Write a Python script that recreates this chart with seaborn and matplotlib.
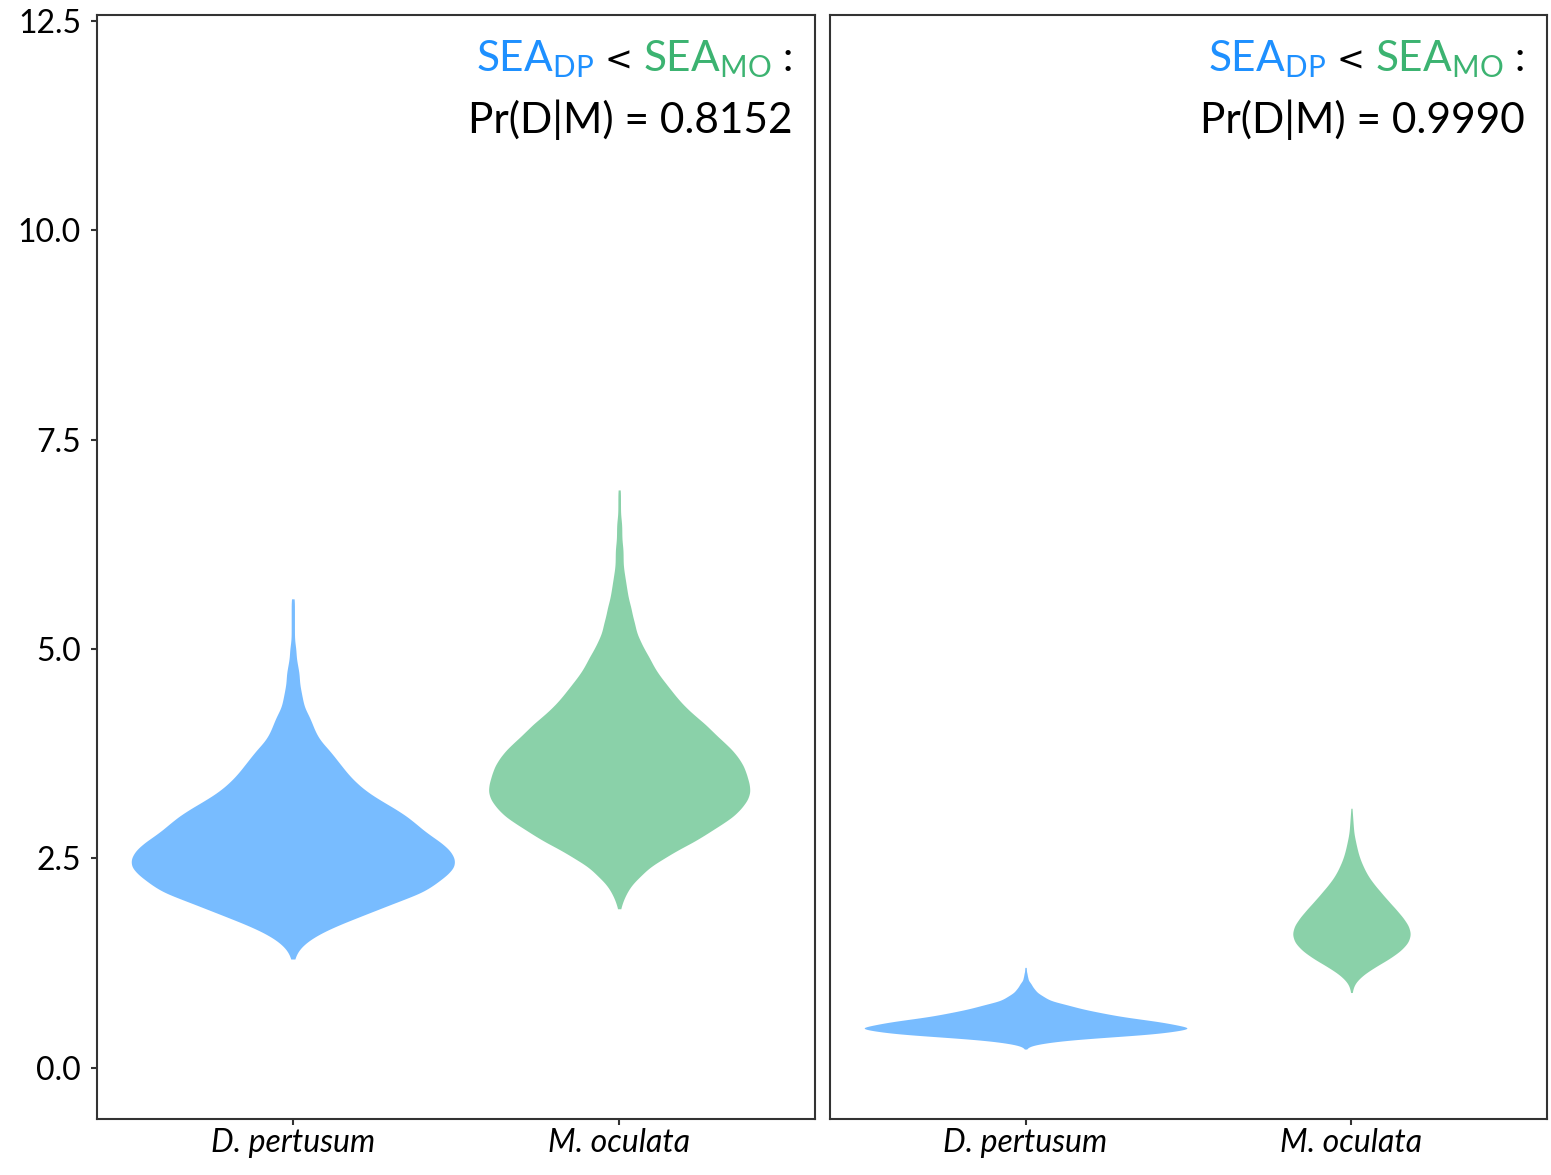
import numpy as np
import pandas as pd
import matplotlib
matplotlib.use("Agg")
import matplotlib.pyplot as plt
import seaborn as sns
from matplotlib.offsetbox import TextArea, HPacker, AnchoredOffsetbox

# ---------------------------------------------------------------------------
# Data: posterior draws of the standard ellipse area (SEA), tallied on a
# regular grid of SEA values (grid start, grid step, number of draws per level)
# ---------------------------------------------------------------------------
species = ["D. pertusum", "M. oculata"]
panels = ["left", "right"]

left_dp_start, left_dp_step = 1.3, 0.1
left_dp_counts = [1, 3, 8, 16, 27, 40, 53, 66, 80, 87, 94, 99, 99, 96, 90, 82,
                  76, 70, 62, 53, 45, 39, 34, 30, 26, 22, 17, 14, 12, 10, 7, 6,
                  5, 4, 4, 3, 2, 2, 1, 1, 1, 1, 1, 1]

left_mo_start, left_mo_step = 1.9, 0.1
left_mo_counts = [1, 3, 6, 10, 17, 23, 34, 44, 57, 67, 77, 87, 93, 98, 100, 99,
                  97, 95, 91, 86, 79, 72, 66, 58, 51, 45, 40, 35, 30, 26, 23,
                  19, 16, 13, 12, 10, 9, 7, 6, 5, 4, 3, 3, 3, 2, 2, 2, 1, 1, 1, 1]

right_dp_start, right_dp_step = 0.225, 0.025
right_dp_counts = [1, 3, 10, 25, 44, 74, 110, 147, 170, 186, 200, 187, 175, 161,
                   143, 124, 108, 95, 82, 70, 60, 51, 41, 31, 26, 22, 18, 14,
                   12, 10, 8, 7, 5, 3, 3, 2, 2, 1, 1, 1]

right_mo_start, right_mo_step = 0.9, 0.1
right_mo_counts = [1, 4, 17, 38, 63, 83, 96, 100, 96, 86, 74, 61, 49, 37, 27,
                   20, 14, 10, 7, 4, 3, 2, 1]

pr_values = ["0.8152", "0.9990"]

y_ticks = [0.0, 2.5, 5.0, 7.5, 10.0, 12.5]
y_tick_labels = ["0.0", "2.5", "5.0", "7.5", "10.0", "12.5"]

tallies = {
    ("left", "D. pertusum"): (left_dp_start, left_dp_step, left_dp_counts),
    ("left", "M. oculata"): (left_mo_start, left_mo_step, left_mo_counts),
    ("right", "D. pertusum"): (right_dp_start, right_dp_step, right_dp_counts),
    ("right", "M. oculata"): (right_mo_start, right_mo_step, right_mo_counts),
}

rows = []
for (panel, sp), (start, step, counts) in tallies.items():
    levels = np.round(start + step * np.arange(len(counts)), 4)
    for v in np.repeat(levels, counts):
        rows.append((panel, sp, v))
df = pd.DataFrame(rows, columns=["panel", "species", "sea"])

# ---------------------------------------------------------------------------
# Styling
# ---------------------------------------------------------------------------
sns.set_theme(style="ticks")
plt.rcParams["font.family"] = ["Lato", "DejaVu Sans"]
plt.rcParams["mathtext.fontset"] = "custom"
plt.rcParams["mathtext.rm"] = "Lato"
plt.rcParams["mathtext.it"] = "Lato:italic"
plt.rcParams["mathtext.bf"] = "Lato:bold"

fill_colors = {"D. pertusum": "dodgerblue", "M. oculata": "mediumseagreen"}
text_blue = "#1E90FF"
text_green = "#3CB371"
frame_color = "#333333"

# violin width (category units) and KDE smoothing (SEA units) per violin
violin_width = {
    ("left", "D. pertusum"): 0.99,
    ("left", "M. oculata"): 0.80,
    ("right", "D. pertusum"): 0.99,
    ("right", "M. oculata"): 0.36,
}
kde_sigma = {
    ("left", "D. pertusum"): 0.07,
    ("left", "M. oculata"): 0.07,
    ("right", "D. pertusum"): 0.02,
    ("right", "M. oculata"): 0.065,
}

W, H = 1551, 1175
fig = plt.figure(figsize=(W / 100, H / 100), dpi=100)
ax_left = fig.add_axes([97 / W, 1 - 1119 / H, (815 - 97) / W, (1119 - 15) / H])
ax_right = fig.add_axes([830 / W, 1 - 1119 / H, (1547 - 830) / W, (1119 - 15) / H])
axes = {"left": ax_left, "right": ax_right}

big = 30.5
tick_size = 23
label_x = 0.9694


def add_sea_label(ax, pr_text):
    line1 = HPacker(children=[
        TextArea(r"$\mathrm{SEA}_{\mathrm{DP}}$",
                 textprops=dict(color=text_blue, fontsize=big)),
        TextArea(" ", textprops=dict(color="black", fontsize=big)),
        TextArea("<", textprops=dict(color="black", fontsize=24,
                                     fontfamily="DejaVu Sans")),
        TextArea(" ", textprops=dict(color="black", fontsize=big)),
        TextArea(r"$\mathrm{SEA}_{\mathrm{MO}}$",
                 textprops=dict(color=text_green, fontsize=big)),
        TextArea(" :", textprops=dict(color="black", fontsize=big)),
    ], align="baseline", pad=0, sep=0)
    anchored = AnchoredOffsetbox(loc="upper right", child=line1, pad=0,
                                 borderpad=0, frameon=False,
                                 bbox_to_anchor=(label_x, 0.9792),
                                 bbox_transform=ax.transAxes)
    ax.add_artist(anchored)
    ax.text(label_x, 0.8931, "Pr(D|M) = " + pr_text, transform=ax.transAxes,
            ha="right", va="baseline", fontsize=big, color="black")


for panel, pr in zip(panels, pr_values):
    ax = axes[panel]
    for sp in species:
        key = (panel, sp)
        sub = df[(df["panel"] == panel) & (df["species"] == sp)]
        factor = kde_sigma[key] / sub["sea"].std()
        sns.violinplot(data=sub, x="species", y="sea", order=species,
                       color=fill_colors[sp], saturation=1, alpha=0.6,
                       inner=None, linewidth=0, cut=0, bw_method=factor,
                       width=violin_width[key], density_norm="width",
                       gridsize=400, ax=ax)
    ax.set_xlim(-0.6, 1.6)
    ax.set_ylim(-0.61, 12.57)
    ax.set_xlabel("")
    ax.set_ylabel("")
    ax.set_xticks([0, 1])
    ax.set_xticklabels(species, fontstyle="italic", fontsize=tick_size,
                       color="black")
    ax.set_yticks(y_ticks)
    ax.set_yticklabels(y_tick_labels, fontsize=tick_size, color="black")
    ax.tick_params(axis="both", direction="out", length=4.5, width=1.5,
                   color=frame_color)
    ax.tick_params(axis="y", pad=7)
    ax.tick_params(axis="x", pad=2)
    for s in ax.spines.values():
        s.set_visible(True)
        s.set_color(frame_color)
        s.set_linewidth(1.5)
    add_sea_label(ax, pr)

ax_right.tick_params(axis="y", left=False, labelleft=False)

fig.savefig("out.png", dpi=100)
